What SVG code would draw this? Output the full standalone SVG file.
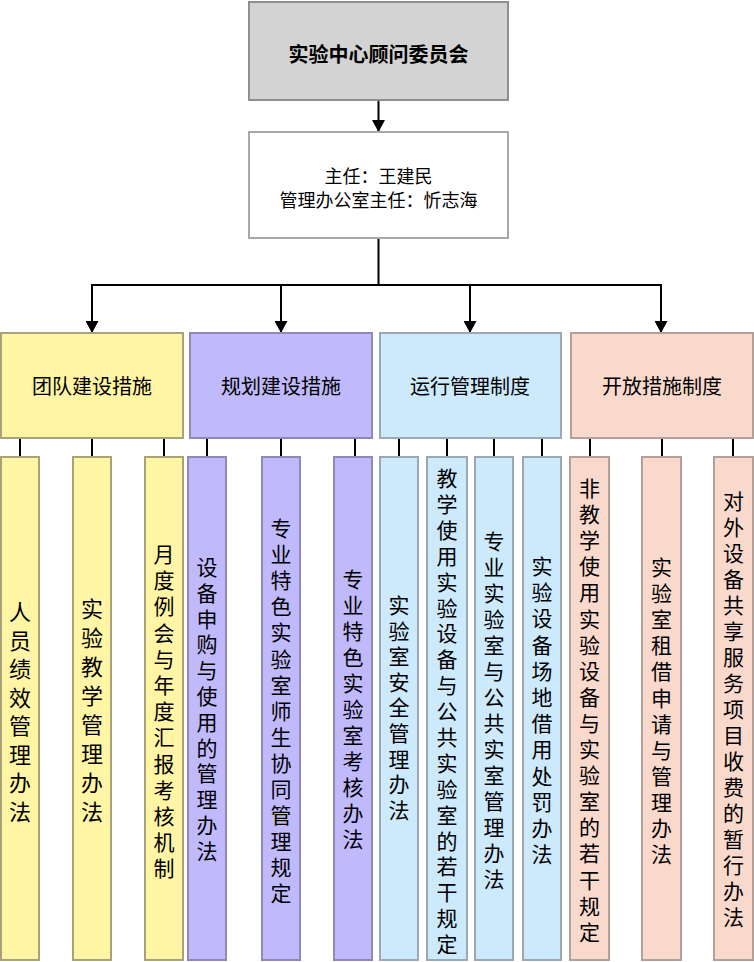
<svg xmlns="http://www.w3.org/2000/svg" width="754" height="962" viewBox="0 0 754 962">
<defs>
<marker id="arr" markerUnits="userSpaceOnUse" markerWidth="13" markerHeight="13" refX="12" refY="6.5" orient="auto">
<path d="M0,0 L12,6.5 L0,13 z" fill="#000"/>
</marker>
<style>
text{font-family:"Noto Sans CJK SC","Liberation Sans",sans-serif;fill:#000;}
.t{font-size:20px;font-weight:bold;text-anchor:middle;dominant-baseline:central;}
.s{font-size:18px;text-anchor:middle;dominant-baseline:central;}
.m{font-size:20px;text-anchor:middle;dominant-baseline:central;}
.v{font-size:21px;text-anchor:middle;dominant-baseline:central;}
.vy{font-size:22px;text-anchor:middle;dominant-baseline:central;}
.ln{stroke:#000;stroke-width:2;fill:none;}
.y{fill:#fff5a5;stroke:#a8a27a;stroke-width:2;}
.p{fill:#c0b9fb;stroke:#8e89b8;stroke-width:2;}
.b{fill:#cde9fc;stroke:#9ba9b4;stroke-width:2;}
.o{fill:#f9d9cc;stroke:#b3a098;stroke-width:2;}
</style>
</defs>
<rect width="754" height="962" fill="#fff"/>

<g id="connectors">
<line class="ln" x1="378.5" y1="100" x2="378.5" y2="132" marker-end="url(#arr)"/>
<polyline class="ln" points="378.5,238 378.5,285"/>
<line class="ln" x1="91" y1="285" x2="662" y2="285"/>
<line class="ln" x1="92" y1="285" x2="92" y2="333" marker-end="url(#arr)"/>
<line class="ln" x1="281" y1="285" x2="281" y2="333" marker-end="url(#arr)"/>
<line class="ln" x1="470" y1="285" x2="470" y2="333" marker-end="url(#arr)"/>
<line class="ln" x1="661" y1="285" x2="661" y2="333" marker-end="url(#arr)"/>
<line class="ln" x1="20" y1="438" x2="20" y2="457"/>
<line class="ln" x1="92" y1="438" x2="92" y2="457"/>
<line class="ln" x1="164" y1="438" x2="164" y2="457"/>
<line class="ln" x1="207" y1="438" x2="207" y2="457"/>
<line class="ln" x1="281" y1="438" x2="281" y2="457"/>
<line class="ln" x1="355" y1="438" x2="355" y2="457"/>
<line class="ln" x1="399" y1="438" x2="399" y2="457"/>
<line class="ln" x1="447" y1="438" x2="447" y2="457"/>
<line class="ln" x1="494" y1="438" x2="494" y2="457"/>
<line class="ln" x1="542" y1="438" x2="542" y2="457"/>
<line class="ln" x1="590" y1="438" x2="590" y2="457"/>
<line class="ln" x1="662" y1="438" x2="662" y2="457"/>
<line class="ln" x1="733" y1="438" x2="733" y2="457"/>
</g>

<g id="committee">
<rect x="249" y="2" width="259" height="98" fill="#d3d3d3" stroke="#8f8f8f" stroke-width="2"/>
<text class="t" x="378.5" y="53">实验中心顾问委员会</text>
</g>
<g id="director">
<rect x="249" y="132" width="259" height="106" fill="#fff" stroke="#a8a8a8" stroke-width="2"/>
<text class="s" x="378.5" y="175">主任：王建民</text>
<text class="s" x="378.5" y="199">管理办公室主任：忻志海</text>
</g>

<g id="team">
<rect class="y" x="1" y="333" width="182" height="105"/>
<text class="m" x="92" y="385">团队建设措施</text>
</g>
<g id="plan">
<rect class="p" x="190" y="333" width="182" height="105"/>
<text class="m" x="281" y="385">规划建设措施</text>
</g>
<g id="ops">
<rect class="b" x="380" y="333" width="181" height="105"/>
<text class="m" x="470" y="385">运行管理制度</text>
</g>
<g id="open">
<rect class="o" x="571" y="333" width="182" height="105"/>
<text class="m" x="662" y="385">开放措施制度</text>
</g>

<g id="y1">
<rect class="y" x="1" y="457" width="38" height="503"/>
<text class="vy" y="610"><tspan x="20">人</tspan><tspan x="20" dy="28.5">员</tspan><tspan x="20" dy="28.5">绩</tspan><tspan x="20" dy="28.5">效</tspan><tspan x="20" dy="28.5">管</tspan><tspan x="20" dy="28.5">理</tspan><tspan x="20" dy="28.5">办</tspan><tspan x="20" dy="28.5">法</tspan></text>
</g>
<g id="y2">
<rect class="y" x="73" y="457" width="38" height="503"/>
<text class="vy" y="607"><tspan x="92">实</tspan><tspan x="92" dy="29">验</tspan><tspan x="92" dy="29">教</tspan><tspan x="92" dy="29">学</tspan><tspan x="92" dy="29">管</tspan><tspan x="92" dy="29">理</tspan><tspan x="92" dy="29">办</tspan><tspan x="92" dy="29">法</tspan></text>
</g>
<g id="y3">
<rect class="y" x="145" y="457" width="38" height="503"/>
<text class="v" y="553"><tspan x="164">月</tspan><tspan x="164" dy="26.2">度</tspan><tspan x="164" dy="26.2">例</tspan><tspan x="164" dy="26.2">会</tspan><tspan x="164" dy="26.2">与</tspan><tspan x="164" dy="26.2">年</tspan><tspan x="164" dy="26.2">度</tspan><tspan x="164" dy="26.2">汇</tspan><tspan x="164" dy="26.2">报</tspan><tspan x="164" dy="26.2">考</tspan><tspan x="164" dy="26.2">核</tspan><tspan x="164" dy="26.2">机</tspan><tspan x="164" dy="26.2">制</tspan></text>
</g>

<g id="p1">
<rect class="p" x="188" y="457" width="38" height="503"/>
<text class="v" y="566"><tspan x="207">设</tspan><tspan x="207" dy="25.8">备</tspan><tspan x="207" dy="25.8">申</tspan><tspan x="207" dy="25.8">购</tspan><tspan x="207" dy="25.8">与</tspan><tspan x="207" dy="25.8">使</tspan><tspan x="207" dy="25.8">用</tspan><tspan x="207" dy="25.8">的</tspan><tspan x="207" dy="25.8">管</tspan><tspan x="207" dy="25.8">理</tspan><tspan x="207" dy="25.8">办</tspan><tspan x="207" dy="25.8">法</tspan></text>
</g>
<g id="p2">
<rect class="p" x="262" y="457" width="38" height="503"/>
<text class="v" y="527"><tspan x="281">专</tspan><tspan x="281" dy="26.1">业</tspan><tspan x="281" dy="26.1">特</tspan><tspan x="281" dy="26.1">色</tspan><tspan x="281" dy="26.1">实</tspan><tspan x="281" dy="26.1">验</tspan><tspan x="281" dy="26.1">室</tspan><tspan x="281" dy="26.1">师</tspan><tspan x="281" dy="26.1">生</tspan><tspan x="281" dy="26.1">协</tspan><tspan x="281" dy="26.1">同</tspan><tspan x="281" dy="26.1">管</tspan><tspan x="281" dy="26.1">理</tspan><tspan x="281" dy="26.1">规</tspan><tspan x="281" dy="26.1">定</tspan></text>
</g>
<g id="p3">
<rect class="p" x="334" y="457" width="38" height="503"/>
<text class="v" y="578"><tspan x="353">专</tspan><tspan x="353" dy="26">业</tspan><tspan x="353" dy="26">特</tspan><tspan x="353" dy="26">色</tspan><tspan x="353" dy="26">实</tspan><tspan x="353" dy="26">验</tspan><tspan x="353" dy="26">室</tspan><tspan x="353" dy="26">考</tspan><tspan x="353" dy="26">核</tspan><tspan x="353" dy="26">办</tspan><tspan x="353" dy="26">法</tspan></text>
</g>

<g id="b1">
<rect class="b" x="380" y="457" width="38" height="503"/>
<text class="v" y="604"><tspan x="399">实</tspan><tspan x="399" dy="25.6">验</tspan><tspan x="399" dy="25.6">室</tspan><tspan x="399" dy="25.6">安</tspan><tspan x="399" dy="25.6">全</tspan><tspan x="399" dy="25.6">管</tspan><tspan x="399" dy="25.6">理</tspan><tspan x="399" dy="25.6">办</tspan><tspan x="399" dy="25.6">法</tspan></text>
</g>
<g id="b2">
<rect class="b" x="427" y="457" width="40" height="503"/>
<text class="v" y="477"><tspan x="447">教</tspan><tspan x="447" dy="25.9">学</tspan><tspan x="447" dy="25.9">使</tspan><tspan x="447" dy="25.9">用</tspan><tspan x="447" dy="25.9">实</tspan><tspan x="447" dy="25.9">验</tspan><tspan x="447" dy="25.9">设</tspan><tspan x="447" dy="25.9">备</tspan><tspan x="447" dy="25.9">与</tspan><tspan x="447" dy="25.9">公</tspan><tspan x="447" dy="25.9">共</tspan><tspan x="447" dy="25.9">实</tspan><tspan x="447" dy="25.9">验</tspan><tspan x="447" dy="25.9">室</tspan><tspan x="447" dy="25.9">的</tspan><tspan x="447" dy="25.9">若</tspan><tspan x="447" dy="25.9">干</tspan><tspan x="447" dy="25.9">规</tspan><tspan x="447" dy="25.9">定</tspan></text>
</g>
<g id="b3">
<rect class="b" x="475" y="457" width="38" height="503"/>
<text class="v" y="540"><tspan x="494">专</tspan><tspan x="494" dy="26">业</tspan><tspan x="494" dy="26">实</tspan><tspan x="494" dy="26">验</tspan><tspan x="494" dy="26">室</tspan><tspan x="494" dy="26">与</tspan><tspan x="494" dy="26">公</tspan><tspan x="494" dy="26">共</tspan><tspan x="494" dy="26">实</tspan><tspan x="494" dy="26">室</tspan><tspan x="494" dy="26">管</tspan><tspan x="494" dy="26">理</tspan><tspan x="494" dy="26">办</tspan><tspan x="494" dy="26">法</tspan></text>
</g>
<g id="b4">
<rect class="b" x="523" y="457" width="38" height="503"/>
<text class="v" y="565"><tspan x="542">实</tspan><tspan x="542" dy="26.2">验</tspan><tspan x="542" dy="26.2">设</tspan><tspan x="542" dy="26.2">备</tspan><tspan x="542" dy="26.2">场</tspan><tspan x="542" dy="26.2">地</tspan><tspan x="542" dy="26.2">借</tspan><tspan x="542" dy="26.2">用</tspan><tspan x="542" dy="26.2">处</tspan><tspan x="542" dy="26.2">罚</tspan><tspan x="542" dy="26.2">办</tspan><tspan x="542" dy="26.2">法</tspan></text>
</g>

<g id="o1">
<rect class="o" x="570" y="457" width="39" height="503"/>
<text class="v" y="487"><tspan x="589.5">非</tspan><tspan x="589.5" dy="26.1">教</tspan><tspan x="589.5" dy="26.1">学</tspan><tspan x="589.5" dy="26.1">使</tspan><tspan x="589.5" dy="26.1">用</tspan><tspan x="589.5" dy="26.1">实</tspan><tspan x="589.5" dy="26.1">验</tspan><tspan x="589.5" dy="26.1">设</tspan><tspan x="589.5" dy="26.1">备</tspan><tspan x="589.5" dy="26.1">与</tspan><tspan x="589.5" dy="26.1">实</tspan><tspan x="589.5" dy="26.1">验</tspan><tspan x="589.5" dy="26.1">室</tspan><tspan x="589.5" dy="26.1">的</tspan><tspan x="589.5" dy="26.1">若</tspan><tspan x="589.5" dy="26.1">干</tspan><tspan x="589.5" dy="26.1">规</tspan><tspan x="589.5" dy="26.1">定</tspan></text>
</g>
<g id="o2">
<rect class="o" x="642" y="457" width="39" height="503"/>
<text class="v" y="566"><tspan x="661.5">实</tspan><tspan x="661.5" dy="26.1">验</tspan><tspan x="661.5" dy="26.1">室</tspan><tspan x="661.5" dy="26.1">租</tspan><tspan x="661.5" dy="26.1">借</tspan><tspan x="661.5" dy="26.1">申</tspan><tspan x="661.5" dy="26.1">请</tspan><tspan x="661.5" dy="26.1">与</tspan><tspan x="661.5" dy="26.1">管</tspan><tspan x="661.5" dy="26.1">理</tspan><tspan x="661.5" dy="26.1">办</tspan><tspan x="661.5" dy="26.1">法</tspan></text>
</g>
<g id="o3">
<rect class="o" x="714" y="457" width="39" height="503"/>
<text class="v" y="500"><tspan x="733.5">对</tspan><tspan x="733.5" dy="26">外</tspan><tspan x="733.5" dy="26">设</tspan><tspan x="733.5" dy="26">备</tspan><tspan x="733.5" dy="26">共</tspan><tspan x="733.5" dy="26">享</tspan><tspan x="733.5" dy="26">服</tspan><tspan x="733.5" dy="26">务</tspan><tspan x="733.5" dy="26">项</tspan><tspan x="733.5" dy="26">目</tspan><tspan x="733.5" dy="26">收</tspan><tspan x="733.5" dy="26">费</tspan><tspan x="733.5" dy="26">的</tspan><tspan x="733.5" dy="26">暂</tspan><tspan x="733.5" dy="26">行</tspan><tspan x="733.5" dy="26">办</tspan><tspan x="733.5" dy="26">法</tspan></text>
</g>
</svg>
